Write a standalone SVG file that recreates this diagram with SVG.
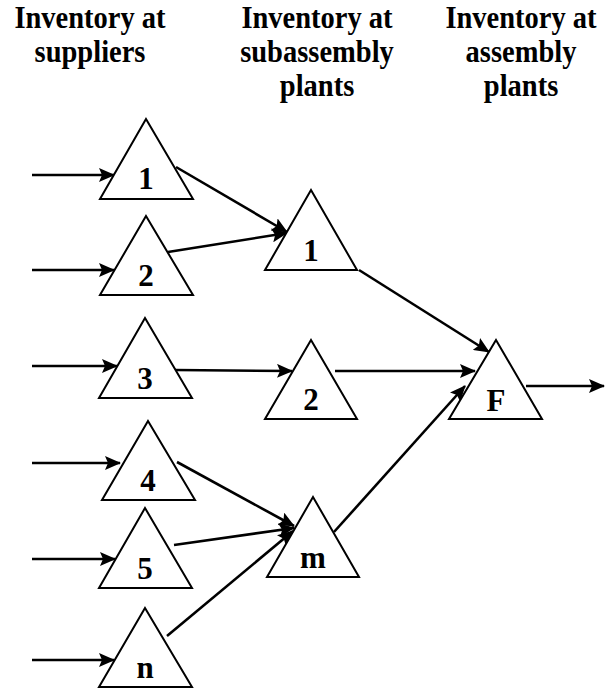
<svg xmlns="http://www.w3.org/2000/svg" width="605" height="689" viewBox="0 0 605 689">
  <style>
    .hdr { font-family: "Liberation Serif", "Times New Roman", serif; font-weight: bold; font-size: 31px; fill: #000; text-anchor: middle; }
    .lbl { font-family: "Liberation Serif", "Times New Roman", serif; font-weight: bold; font-size: 31px; fill: #000; text-anchor: middle; }
    .tri { fill: #fff; stroke: #000; stroke-width: 2; stroke-linejoin: miter; }
    .flow { fill: none; stroke: #000; stroke-width: 2.6; marker-end: url(#head); }
  </style>
  <defs>
    <marker id="head" markerUnits="userSpaceOnUse" viewBox="0 0 16 14" refX="15" refY="7" markerWidth="16" markerHeight="14" orient="auto">
      <path d="M0,0 L16,7 L0,14 L3,7 z" fill="#000"/>
    </marker>
  </defs>

  <rect width="605" height="689" fill="#fff"/>

  <!-- column headings (slightly condensed) -->
  <g id="headings">
    <text class="hdr" transform="translate(90,28) scale(0.92,1)">Inventory at</text>
    <text class="hdr" transform="translate(90,62) scale(0.92,1)">suppliers</text>
    <text class="hdr" transform="translate(317,28) scale(0.92,1)">Inventory at</text>
    <text class="hdr" transform="translate(317,62) scale(0.92,1)">subassembly</text>
    <text class="hdr" transform="translate(317,96) scale(0.92,1)">plants</text>
    <text class="hdr" transform="translate(521,28) scale(0.92,1)">Inventory at</text>
    <text class="hdr" transform="translate(521,62) scale(0.92,1)">assembly</text>
    <text class="hdr" transform="translate(521,96) scale(0.92,1)">plants</text>
  </g>

  <!-- flows between stock points -->
  <g id="connectors">
    <!-- inbound supply -->
    <line class="flow" x1="32" y1="175" x2="114" y2="175"/>
    <line class="flow" x1="32" y1="270" x2="114" y2="270"/>
    <line class="flow" x1="32" y1="366" x2="117" y2="366"/>
    <line class="flow" x1="32" y1="463" x2="120" y2="463"/>
    <line class="flow" x1="32" y1="559" x2="115" y2="559"/>
    <line class="flow" x1="32" y1="660" x2="114" y2="660"/>
    <!-- suppliers to subassembly plants -->
    <line class="flow" x1="176" y1="167" x2="287" y2="232"/>
    <line class="flow" x1="168" y1="252" x2="287" y2="233"/>
    <line class="flow" x1="175" y1="370" x2="292" y2="371"/>
    <line class="flow" x1="177" y1="462" x2="294" y2="526"/>
    <line class="flow" x1="174" y1="545" x2="294" y2="528"/>
    <line class="flow" x1="167" y1="636" x2="293" y2="531"/>
    <!-- subassembly plants to assembly -->
    <line class="flow" x1="359" y1="270" x2="489" y2="352"/>
    <line class="flow" x1="335" y1="371" x2="475" y2="371"/>
    <line class="flow" x1="334" y1="532" x2="465" y2="386"/>
    <!-- outbound -->
    <line class="flow" x1="526" y1="386" x2="604" y2="386"/>
  </g>

  <!-- supplier stocks -->
  <g id="sup-1">
    <polygon class="tri" points="146,119 193,199 100,199"/>
    <text class="lbl" x="146" y="189">1</text>
  </g>
  <g id="sup-2">
    <polygon class="tri" points="146,216 193,295 100,295"/>
    <text class="lbl" x="146" y="286">2</text>
  </g>
  <g id="sup-3">
    <polygon class="tri" points="145,318 192,398 99,398"/>
    <text class="lbl" x="145" y="389">3</text>
  </g>
  <g id="sup-4">
    <polygon class="tri" points="148,421 195,500 102,500"/>
    <text class="lbl" x="148" y="491">4</text>
  </g>
  <g id="sup-5">
    <polygon class="tri" points="145,508 192,588 99,588"/>
    <text class="lbl" x="145" y="579">5</text>
  </g>
  <g id="sup-n">
    <polygon class="tri" points="145,608 192,687 99,687"/>
    <text class="lbl" x="145" y="678">n</text>
  </g>

  <!-- subassembly stocks -->
  <g id="sub-1">
    <polygon class="tri" points="311,190 357,270 265,270"/>
    <text class="lbl" x="311" y="261">1</text>
  </g>
  <g id="sub-2">
    <polygon class="tri" points="311,340 357,419 265,419"/>
    <text class="lbl" x="311" y="410">2</text>
  </g>
  <g id="sub-m">
    <polygon class="tri" points="313,497 359,577 267,577"/>
    <text class="lbl" x="313" y="568">m</text>
  </g>

  <!-- final assembly stock -->
  <g id="asm-F">
    <polygon class="tri" points="496,340 542,419 449,419"/>
    <text class="lbl" x="496" y="411">F</text>
  </g>
</svg>
